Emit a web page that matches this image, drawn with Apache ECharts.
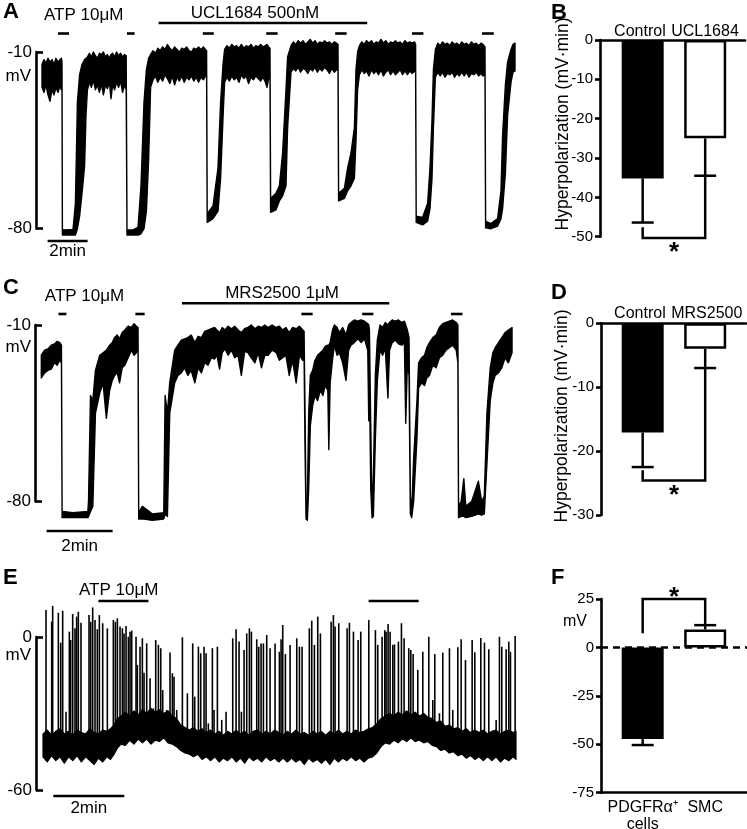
<!DOCTYPE html>
<html>
<head>
<meta charset="utf-8">
<script src="https://cdn.jsdelivr.net/npm/echarts@6/dist/echarts.min.js"></script>
<style>
  html, body { margin: 0; padding: 0; background: #fff; }
  #chart { width: 747px; height: 829px; }
</style>
</head>
<body>
<div id="chart"></div>
<script>
// membrane potential traces: [time (min), upper edge (mV), lower edge (mV)]
const traceA = [
  [0.05,-15,-24],[0.15,-13,-26],[0.25,-14.5,-23],[0.35,-12.5,-27],[0.45,-14,-29.5],[0.55,-13,-25],[0.65,-15,-27],
  [0.75,-12.5,-24],[0.85,-14,-26],[0.95,-13,-23.5],[1.02,-12.5,-25],[1.05,-14,-25],
  [1.07,-80.3,-82.5],[1.2,-80.5,-82.5],[1.6,-80.3,-82.5],[1.72,-70,-82.5],[1.82,-30,-80],[1.93,-19,-75],[2.05,-15,-66],[2.18,-13,-55],[2.25,-12.5,-35],
  [2.32,-12,-25],[2.42,-10.5,-22],[2.52,-12,-24],[2.62,-10,-21],[2.72,-11.5,-25],[2.82,-12.5,-23],[2.92,-10.5,-26],[3.02,-11,-22.5],
  [3.12,-10,-27],[3.22,-12,-23],[3.32,-11,-24.5],[3.42,-12.5,-22],[3.5,-11,-28.5],[3.58,-10.5,-23],[3.68,-12,-25],[3.78,-10,-22],
  [3.88,-11.5,-24],[3.98,-10.5,-21.5],[4.08,-12,-26],[4.18,-11,-23],[4.26,-11.5,-25],
  [4.3,-80.5,-82.5],[4.6,-80.5,-82.5],[4.85,-79.5,-82.5],[5.0,-63,-82],[5.15,-30,-80],[5.27,-17,-73],[5.38,-12.5,-53],
  [5.48,-11,-24],[5.6,-9.5,-21],[5.72,-10.5,-19.5],[5.84,-8.5,-22],[5.96,-9.5,-20],[6.08,-8,-21.5],[6.2,-9,-19],[6.32,-7,-20.5],
  [6.44,-8.5,-22.5],[6.56,-9.5,-19.5],[6.68,-8,-23],[6.8,-9,-20],[6.92,-10,-21.5],[7.04,-8.5,-19.5],[7.16,-9,-22],[7.28,-8,-20],
  [7.4,-9.5,-21],[7.52,-10,-19.5],[7.64,-8.5,-21.5],[7.76,-9,-20],[7.88,-8,-22],[8.0,-9,-20],[8.12,-8,-21],[8.22,-9,-19.5],[8.28,-9.5,-20],
  [8.31,-74,-77.5],[8.6,-71,-76],[8.85,-56,-73],[8.98,-30,-60],[9.1,-15,-36],
  [9.18,-9,-22],[9.3,-7.5,-20],[9.42,-8.5,-21.5],[9.54,-7,-19.5],[9.66,-8,-21],[9.78,-7.5,-20],[9.9,-8.5,-22],[10.02,-7,-19],
  [10.14,-8.5,-20.5],[10.26,-7.5,-19.5],[10.38,-8,-22.5],[10.5,-7,-20],[10.62,-8.5,-21],[10.74,-7.5,-19.5],[10.86,-8,-20.5],
  [10.98,-7,-21.5],[11.1,-8,-20],[11.22,-7.5,-22],[11.3,-7,-24],[11.38,-8,-20.5],[11.45,-8.5,-20],
  [11.48,-68,-73.5],[11.75,-66,-72.5],[11.92,-63,-69],[12.08,-50,-67],[12.25,-25,-63],[12.33,-12,-40],
  [12.5,-7.6,-18],[12.62,-6,-16.5],[12.74,-7,-17.5],[12.86,-5.5,-16],[12.98,-6.5,-18],[13.1,-5.5,-16.5],[13.22,-7,-17],[13.34,-6,-18.5],
  [13.46,-5,-16.5],[13.58,-6.5,-17.5],[13.7,-5.5,-16],[13.82,-7,-18],[13.94,-6,-16.5],[14.06,-6.5,-17.5],[14.18,-5.5,-16],[14.3,-6.5,-17],
  [14.42,-6,-18.5],[14.54,-7,-16.5],[14.66,-6,-18],[14.78,-6.5,-17],[14.85,-7,-17],
  [14.88,-66,-69],[15.17,-64,-68],[15.33,-56,-65],[15.5,-50,-63],[15.67,-40,-60],[15.75,-17,-45],[15.83,-10,-25],
  [15.92,-7.6,-19],[16.04,-6,-17],[16.16,-7,-18.5],[16.28,-5.5,-17.5],[16.4,-6.5,-19.5],[16.52,-5.5,-17],[16.64,-7,-18.5],[16.76,-6,-17.5],
  [16.88,-6.5,-19],[17.0,-5,-17],[17.12,-6.5,-19.5],[17.24,-5.5,-18],[17.36,-7,-17],[17.48,-6,-19],[17.6,-6.5,-17.5],[17.72,-5.5,-19],
  [17.84,-6.5,-18],[17.96,-6,-17],[18.08,-7,-19],[18.2,-5.5,-17.5],[18.32,-6.5,-19],[18.44,-6,-17.5],[18.56,-6.5,-18.5],[18.68,-6,-17.5],[18.73,-7,-18],
  [18.76,-75,-77.5],[19.08,-75.5,-78.5],[19.33,-70,-77],[19.45,-56,-72],[19.55,-37,-60],[19.62,-17,-40],
  [19.72,-9,-20],[19.84,-6.5,-18],[19.96,-7.5,-19.5],[20.08,-6,-18],[20.2,-7,-20],[20.32,-6.5,-18.5],[20.44,-7.5,-19],[20.56,-6,-18],
  [20.68,-7,-20],[20.8,-6.5,-18.5],[20.92,-7.5,-19.5],[21.04,-6,-18],[21.16,-7,-19.5],[21.28,-6.5,-18],[21.4,-7.5,-20],[21.52,-6,-18.5],
  [21.64,-7,-19],[21.76,-6.5,-18],[21.88,-7.5,-19.5],[22.0,-6.5,-18.5],[22.1,-7,-19.5],[22.2,-8,-19],
  [22.23,-77,-79.6],[22.5,-78,-80],[22.83,-76,-79],[23.0,-65,-76],[23.08,-43,-72],[23.22,-23,-58],[23.33,-14,-35],
  [23.5,-9,-22],[23.6,-7,-18],[23.7,-6.5,-17.5]
];

const traceC = [
  [0.04,-22,-31],[0.14,-20,-29],[0.24,-19.5,-28],[0.34,-18,-27.5],[0.44,-17.5,-25],[0.52,-16.5,-26],[0.6,-17,-24],[0.65,-18,-25],
  [0.67,-84,-86.5],[1.0,-84.5,-86.5],[1.45,-84,-86.5],[1.47,-80,-86],[1.53,-38,-84],[1.6,-40,-82],[1.68,-28,-45],[1.81,-22,-37],
  [1.91,-21,-33],[2.01,-20,-47],[2.11,-18,-36],[2.19,-17,-32],[2.26,-15,-30],[2.34,-14,-29],[2.41,-15.5,-33],[2.49,-13,-27],
  [2.57,-12,-26],[2.67,-10.5,-23],[2.77,-11,-20],[2.85,-9.5,-22],[2.92,-10.5,-21],[2.97,-11,-18],
  [2.99,-84.5,-87],[3.1,-82,-87],[3.4,-85,-87.5],[3.75,-84.5,-87],[3.79,-38,-85],[3.86,-45,-86],[3.93,-33,-45],[4.08,-20,-33],
  [4.18,-18,-30],[4.28,-16,-29],[4.38,-15.5,-27],[4.48,-15,-30],[4.58,-14,-28],[4.69,-17,-33],[4.79,-14.5,-27],[4.89,-15,-29],
  [4.99,-12.5,-25],[5.09,-12,-26],[5.19,-11.5,-23],[5.29,-11,-23.5],[5.36,-12,-22],[5.44,-13,-27.5],[5.52,-11,-21],[5.6,-12,-19.5],
  [5.7,-10.5,-22],[5.8,-11.5,-20],[5.9,-10.5,-23],[6.0,-12,-22],[6.1,-13,-30],[6.2,-11.5,-20.5],[6.3,-11,-21],[6.4,-10,-23],
  [6.51,-11.5,-25],[6.61,-10.5,-21],[6.71,-11,-27],[6.81,-10,-22],[6.91,-11,-22],[7.03,-10,-20],[7.16,-11,-21],[7.25,-10.5,-24],
  [7.35,-12,-23],[7.45,-11,-22],[7.55,-13,-30],[7.65,-11,-24],[7.76,-11.5,-33],[7.86,-10.5,-22],[7.96,-12,-24],
  [8.0,-12.5,-22],[8.03,-45,-60],[8.06,-84,-87],[8.1,-80,-87.5],[8.14,-45,-75],[8.19,-30,-50],[8.26,-28,-42],[8.33,-24,-38],[8.41,-22,-40],
  [8.49,-21,-36],[8.57,-20,-38],[8.64,-18.5,-34],[8.72,-18,-36],[8.75,-18,-59.5],[8.79,-17,-33],[8.86,-12,-24],[8.92,-10,-18],
  [9.0,-11,-22],[9.07,-13,-21],[9.17,-11,-25],[9.27,-14,-32],[9.35,-10,-20],[9.42,-9,-18],[9.52,-8,-17],[9.63,-8.5,-15.5],
  [9.73,-8,-17],[9.83,-8.5,-15.5],[9.93,-9.5,-20],[9.96,-10,-48],[9.98,-12,-30],
  [10.02,-50,-75],[10.06,-84,-86.5],[10.1,-70,-86],[10.16,-30,-55],[10.22,-16,-32],[10.3,-10,-20],[10.38,-11,-22],[10.46,-9,-19],
  [10.54,-10,-39],[10.59,-9,-20],[10.67,-8,-17],[10.76,-8.5,-16],[10.86,-8,-17.5],[10.96,-9,-18],[11.04,-8.5,-17],[11.08,-10,-49],
  [11.13,-12,-25],[11.18,-15,-30],
  [11.22,-78,-85],[11.26,-84,-86.5],[11.32,-63,-80],[11.42,-40,-55],[11.47,-25,-35],[11.56,-23,-33],[11.65,-22,-34],[11.72,-19,-31],
  [11.8,-17,-30],[11.9,-15,-26],[12.0,-14,-27],[12.1,-11,-23],[12.2,-9.5,-22],[12.3,-9,-20],[12.4,-8.5,-19],[12.5,-8,-18],[12.61,-9,-20],[12.66,-10,-25],
  [12.68,-82,-86.5],[12.76,-80,-86],[12.84,-71,-86],[12.9,-82,-86.5],[13.08,-80,-86],[13.28,-72,-85],[13.38,-80,-85.5],[13.46,-78,-85],
  [13.54,-45,-65],[13.64,-27,-40],[13.72,-21,-33],[13.79,-19,-30],[13.89,-17,-29],[13.99,-15,-27],[14.09,-13,-23],[14.19,-12,-25],[14.3,-11,-21]
];

const bandE = [
  [0,-38,-47],[0.12,-36.5,-49],[0.24,-38.5,-46.5],[0.36,-37,-48.5],[0.48,-36,-47],[0.6,-38,-49.5],[0.72,-37,-47],[0.84,-38.5,-48.5],
  [0.96,-36.5,-46.5],[1.08,-37.5,-49],[1.2,-38,-47],[1.32,-36,-48.5],[1.44,-37.5,-50],[1.56,-38,-47.5],[1.68,-36.5,-49],[1.8,-37,-47],[1.9,-36,-48],
  [2.0,-34.5,-46],[2.1,-32,-43.5],[2.2,-31,-42],
  [2.32,-29.5,-42.5],[2.44,-31,-40.5],[2.56,-29,-42],[2.68,-30.5,-40],[2.8,-28.5,-41.5],[2.92,-30,-40],[3.04,-28,-42],[3.16,-29.5,-40.5],
  [3.28,-28.5,-41],[3.4,-30,-39.5],[3.52,-29,-41.5],[3.64,-31,-42],
  [3.76,-32,-43],[3.88,-34.5,-44.5],[4.0,-35.5,-45.5],[4.12,-36.5,-46],[4.24,-35.5,-47],
  [4.36,-37,-46],[4.48,-36,-48],[4.6,-37.5,-47],[4.72,-36.5,-48.5],[4.84,-38,-47],[4.96,-37,-49],[5.08,-38.5,-47.5],[5.2,-37,-48.5],
  [5.32,-38,-47],[5.44,-36.5,-49],[5.56,-38,-47.5],[5.68,-37,-49.5],[5.8,-38.5,-47],[5.92,-37,-48.5],[6.04,-36.5,-47.5],[6.16,-38,-49],
  [6.28,-37,-47],[6.4,-38,-48.5],[6.52,-36.5,-47.5],[6.64,-37.5,-49],[6.76,-38.5,-47.5],[6.88,-37,-49],[7.0,-38,-47.5],[7.12,-36.5,-49],
  [7.24,-38,-48],[7.36,-37.5,-50],[7.48,-38.5,-47.5],[7.6,-37,-49],[7.72,-38,-48],[7.84,-37,-49.5],[7.96,-38.5,-48],[8.08,-37,-50],
  [8.2,-38,-47.5],[8.32,-36.5,-49],[8.44,-38,-47.5],[8.56,-37,-48.5],[8.68,-38,-47],[8.8,-36.5,-48.5],[8.92,-37.5,-47.5],[9.04,-37,-49],[9.16,-36,-47.5],
  [9.28,-35.5,-47],[9.4,-34,-45.5],[9.52,-32,-43],[9.64,-31,-41.5],
  [9.76,-30,-42],[9.88,-31,-40.5],[10.0,-29.5,-41.5],[10.12,-30.5,-40],[10.24,-29,-41],[10.36,-30.5,-39.5],[10.48,-29.5,-41],[10.6,-31,-40.5],
  [10.72,-30,-41.5],[10.84,-31.5,-41],
  [10.96,-32,-42.5],[11.08,-33.5,-43],[11.2,-33,-44.5],[11.32,-35,-44],[11.44,-34.5,-45.5],[11.56,-36,-45],[11.68,-35.5,-46.5],[11.8,-37,-46],
  [11.92,-36,-47.5],[12.04,-37.5,-46.5],[12.16,-36.5,-48],[12.28,-37.5,-47],[12.4,-36.5,-48.5],[12.52,-38,-47],[12.64,-37,-48.5],
  [12.76,-36.5,-47],[12.88,-38,-49],[13.0,-37,-47.5],[13.12,-36.5,-48.5],[13.24,-37.5,-47],[13.32,-37,-48]
];

// action potential peaks in E: [time (min), peak (mV)]
const spikesE = [
  [0.085,10.6],[0.244,6.0],[0.272,12.2],[0.432,9.5],[0.498,-2.2],[0.554,10.3],[0.648,-29.3],[0.742,2.1],[0.779,-1.2],[0.836,9.0],
  [0.901,3.4],[0.948,8.0],[0.995,9.9],[1.07,5.6],[1.296,8.6],[1.343,6.0],[1.399,11.6],[1.465,6.7],[1.53,3.1],[1.587,8.6],
  [1.681,5.4],[1.812,3.4],[1.981,6.7],[2.038,6.0],[2.094,7.3],[2.169,4.1],[2.235,3.4],[2.282,1.4],[2.338,4.3],[2.404,0.1],
  [2.451,2.1],[2.498,2.5],[2.62,0.1],[2.657,-11.0],[2.732,-3.8],[2.798,-0.5],[2.845,-14.0],[2.92,-2.5],[3.014,-16.2],[3.108,-28.0],
  [3.174,-1.2],[3.249,-3.1],[3.315,-4.4],[3.371,-20.8],[3.484,-28.6],[3.577,-6.1],[3.643,-14.2],[3.69,-15.6],[3.765,-28.6],[3.925,-0.1],
  [4.066,-22.1],[4.216,-2.5],[4.272,-23.4],[4.376,-3.8],[4.441,-6.4],[4.535,-3.8],[4.592,-6.4],[4.657,-33.9],[4.77,-4.4],[4.817,-28.6],
  [4.911,-3.8],[5.033,-32.5],[5.155,-29.3],[5.343,-0.5],[5.437,3.0],[5.521,-1.8],[5.587,-29.3],[5.662,-5.1],[5.737,1.4],[5.812,3.4],
  [5.869,2.1],[6.019,-0.9],[6.075,-3.8],[6.141,-2.5],[6.207,-2.5],[6.3,0.8],[6.394,-4.4],[6.535,-2.5],[6.657,-5.8],
  [6.704,-0.9],[6.751,4.7],[6.826,-6.7],[6.958,-3.1],[7.146,-0.5],[7.221,-3.8],[7.296,-3.8],[7.5,3.4],[7.568,6.4],[7.643,-3.1],
  [7.737,8.0],[7.812,1.4],[8.113,6.0],[8.178,8.6],[8.225,4.1],[8.329,5.4],[8.563,3.4],[8.629,5.6],[8.742,2.1],[8.873,-1.2],
  [8.948,2.1],[9.174,6.7],[9.361,2.7],[9.427,-3.1],[9.549,0.1],[9.624,2.7],[9.662,2.1],[9.718,5.1],[9.775,2.1],[9.85,-3.1],
  [9.897,-2.9],[10.009,-1.8],[10.094,5.4],[10.169,-0.5],[10.3,-4.4],[10.357,-5.1],[10.423,-6.7],[10.554,-12.9],[10.695,-5.8],[10.864,0.1],
  [10.977,-24.7],[11.033,-6.7],[11.164,-29.9],[11.258,-6.1],[11.446,-4.4],[11.54,-28.6],[11.681,-4.0],[11.775,-0.9],[11.897,-9.0],[12.085,-1.2],
  [12.16,-6.0],[12.329,-0.4],[12.432,-2.2],[12.554,-4.8],[12.761,-32.5],[12.854,0.1],[12.92,-3.8],[13.042,-4.8],[13.117,-1.8],[13.164,-5.8],
  [13.296,0.4]
];

// drug application periods [start, end] in min
const atpA = [[0.85,1.4],[4.3,4.68],[8.09,8.64],[11.26,11.83],[14.71,15.28],[18.55,19.12],[22.05,22.64]];
const uclA = [[5.88,16.31]];
const atpC = [[0.56,0.8],[2.89,3.17],[7.92,8.26],[9.76,10.1],[12.45,12.8]];
const mrsC = [[4.3,10.58]];
const atpE = [[1.56,2.97],[9.17,10.58]];

// time scale bars [start, length] in min
const scaleA = [0.33, 2];
const scaleC = [0.2, 2];
const scaleE = [0.29, 2];

// summary bars
const catB = ['Control', 'UCL1684'];
const meanB = [-35.2, -25.0];
const semB = [11.2, 9.5];
const sigB = [-47.6, -50.3, -34.5];

const catD = ['Control', 'MRS2500'];
const meanD = [-17.1, -4.0];
const semD = [5.4, 3.0];
const sigD = [-23.0, -24.6, -7.0];

const catF = ['PDGFRα⁺\ncells', 'SMC'];
const meanF = [-47.3, 9.3];
const semF = [3.1, 2.2];
const sigF = [7.3, 25, 11.5];

const FONT = '"Liberation Sans", Arial, Helvetica, sans-serif';
const BLACK = '#000';

function band(i, rows, lw) {
  return {
    type: 'custom', xAxisIndex: i, yAxisIndex: i, silent: true,
    data: [rows[0]],
    renderItem: (params, api) => {
      const top = rows.map(r => api.coord([r[0], r[1]]));
      const bot = rows.map(r => api.coord([r[0], r[2]])).reverse();
      return {
        type: 'polygon',
        shape: { points: top.concat(bot) },
        style: { fill: BLACK, stroke: BLACK, lineWidth: lw, lineJoin: 'round' }
      };
    }
  };
}

function spikes(i, rows) {
  return {
    type: 'custom', xAxisIndex: i, yAxisIndex: i, silent: true,
    data: rows,
    renderItem: (params, api) => {
      const p0 = api.coord([api.value(0), -40]);
      const p1 = api.coord([api.value(0), api.value(1)]);
      return {
        type: 'line',
        shape: { x1: p0[0], y1: p0[1], x2: p1[0], y2: p1[1] },
        style: { stroke: BLACK, lineWidth: 1.6 }
      };
    }
  };
}

function drugBars(i, rows, y) {
  return {
    type: 'custom', xAxisIndex: i, yAxisIndex: i, silent: true,
    data: rows,
    renderItem: (params, api) => {
      const a = api.coord([api.value(0), 0])[0];
      const b = api.coord([api.value(1), 0])[0];
      return {
        type: 'line',
        shape: { x1: a, y1: y, x2: b, y2: y },
        style: { stroke: BLACK, lineWidth: 2.6 }
      };
    }
  };
}

function scaleBar(i, sb, y, ty) {
  return {
    type: 'custom', xAxisIndex: i, yAxisIndex: i, silent: true,
    data: [sb],
    renderItem: (params, api) => {
      const a = api.coord([sb[0], 0])[0];
      const b = api.coord([sb[0] + sb[1], 0])[0];
      return {
        type: 'group',
        children: [
          { type: 'line', shape: { x1: a, y1: y, x2: b, y2: y }, style: { stroke: BLACK, lineWidth: 2.6 } },
          { type: 'text', style: { text: sb[1] + 'min', x: (a + b) / 2, y: ty, align: 'center', verticalAlign: 'middle',
            fontSize: 17, fontFamily: FONT, fill: BLACK } }
        ]
      };
    }
  };
}

function bars(i, means, extra) {
  return Object.assign({
    type: 'bar', xAxisIndex: i, yAxisIndex: i, barWidth: 42, silent: true,
    data: means.map((v, k) => ({
      value: [k + 1, v],
      itemStyle: k === 0 ? { color: BLACK } : { color: '#fff', borderColor: BLACK, borderWidth: 2.5 }
    }))
  }, extra || {});
}

function errBars(i, means, sems) {
  return {
    type: 'custom', xAxisIndex: i, yAxisIndex: i, silent: true, z: 5,
    data: means.map((m, k) => [k + 1, m, m + Math.sign(m) * sems[k]]),
    renderItem: (params, api) => {
      const p0 = api.coord([api.value(0), api.value(1)]);
      const p1 = api.coord([api.value(0), api.value(2)]);
      return {
        type: 'group',
        children: [
          { type: 'line', shape: { x1: p0[0], y1: p0[1], x2: p1[0], y2: p1[1] }, style: { stroke: BLACK, lineWidth: 2.5 } },
          { type: 'line', shape: { x1: p1[0] - 11, y1: p1[1], x2: p1[0] + 11, y2: p1[1] }, style: { stroke: BLACK, lineWidth: 2.5 } }
        ]
      };
    }
  };
}

function bracket(i, br, starDy) {
  return {
    type: 'custom', xAxisIndex: i, yAxisIndex: i, silent: true, z: 5,
    data: [br],
    renderItem: (params, api) => {
      const a = api.coord([1, br[0]]), b = api.coord([1, br[1]]);
      const c = api.coord([2, br[1]]), d = api.coord([2, br[2]]);
      return {
        type: 'group',
        children: [
          { type: 'polyline', shape: { points: [a, b, c, d] }, style: { stroke: BLACK, fill: 'none', lineWidth: 2.5 } },
          { type: 'text', style: { text: '*', x: (b[0] + c[0]) / 2, y: b[1] + starDy, align: 'center', verticalAlign: 'middle',
            fontSize: 26, fontWeight: 'bold', fontFamily: FONT, fill: BLACK } }
        ]
      };
    }
  };
}

// header labels sit side by side: first one ends just right of its bar centre, second starts left of its centre
function catLabels(i, cats, yv, dy, va, aligns, dxs) {
  return {
    type: 'custom', xAxisIndex: i, yAxisIndex: i, silent: true,
    data: cats.map((c, k) => [k + 1, yv]),
    renderItem: (params, api) => {
      const k = params.dataIndex;
      const p = api.coord([api.value(0), api.value(1)]);
      return {
        type: 'text',
        style: { text: cats[k], x: p[0] + dxs[k], y: p[1] + dy, align: aligns[k], verticalAlign: va,
          fontSize: 16, fontFamily: FONT, fill: BLACK, lineHeight: 17 }
      };
    }
  };
}

function traceX(g, max) {
  return { type: 'value', gridIndex: g, min: 0, max: max, show: false };
}

function traceY(g, min, max, offset) {
  return {
    type: 'value', gridIndex: g, min: min, max: max, interval: max - min, offset: offset,
    axisLine: { show: true, onZero: false, lineStyle: { color: BLACK, width: 2.6 } },
    axisTick: { show: true, inside: true, length: 7, lineStyle: { color: BLACK, width: 2.6 } },
    axisLabel: { color: BLACK, fontSize: 17, fontFamily: FONT, margin: 4 },
    splitLine: { show: false }
  };
}

function barX(g, min, max, pos) {
  return {
    type: 'value', gridIndex: g, min: min, max: max, position: pos,
    axisLine: { show: true, onZero: false, lineStyle: { color: BLACK, width: 2.6 } },
    axisTick: { show: false }, axisLabel: { show: false }, splitLine: { show: false }
  };
}

function barY(g, min, max, interval) {
  return {
    type: 'value', gridIndex: g, min: min, max: max, interval: interval,
    axisLine: { show: true, onZero: false, lineStyle: { color: BLACK, width: 2.6 } },
    axisTick: { show: true, length: 5, lineStyle: { color: BLACK, width: 2.6 } },
    axisLabel: { color: BLACK, fontSize: 15, fontFamily: FONT, margin: 7 },
    splitLine: { show: false }
  };
}

function txt(s, x, y, size, opts) {
  const o = opts || {};
  return {
    type: 'text', x: x, y: y, silent: true, rotation: o.rot || 0,
    style: { text: s, fontSize: size, fontWeight: o.weight || 'normal', fontFamily: FONT, fill: BLACK,
      align: o.align || 'left', verticalAlign: 'middle' }
  };
}

const chart = echarts.init(document.getElementById('chart'), null, { renderer: 'canvas' });

chart.setOption({
  animation: false,
  backgroundColor: '#fff',
  grid: [
    { left: 41, top: 52, width: 475, height: 176.7 },
    { left: 600, top: 40, width: 145, height: 196.7 },
    { left: 40, top: 325, width: 474, height: 176.3 },
    { left: 601, top: 323.3, width: 145, height: 191.7 },
    { left: 43, top: 637, width: 473, height: 153 },
    { left: 601, top: 599, width: 146, height: 193.7 }
  ],
  xAxis: [
    traceX(0, 23.75),
    barX(1, 0.317, 2.637, 'top'),
    traceX(2, 14.36),
    barX(3, 0.333, 2.653, 'top'),
    traceX(4, 13.32),
    barX(5, 0.333, 2.669, 'bottom')
  ],
  yAxis: [
    traceY(0, -80, -10, 5),
    barY(1, -50, 0, 10),
    traceY(2, -80, -10, 5),
    barY(3, -30, 0, 10),
    traceY(4, -60, 0, 7),
    barY(5, -75, 25, 25)
  ],
  graphic: [
    txt('A', 3, 12, 22, { weight: 'bold' }),
    txt('B', 551, 12.5, 22, { weight: 'bold' }),
    txt('C', 3, 288, 22, { weight: 'bold' }),
    txt('D', 551, 293, 22, { weight: 'bold' }),
    txt('E', 3, 578, 22, { weight: 'bold' }),
    txt('F', 551, 578, 22, { weight: 'bold' }),
    txt('mV', 31, 76, 17, { align: 'right' }),
    txt('mV', 31, 347, 17, { align: 'right' }),
    txt('mV', 31, 655, 17, { align: 'right' }),
    txt('ATP 10μM', 44, 15.5, 17),
    txt('UCL1684 500nM', 255, 13.5, 17, { align: 'center' }),
    txt('ATP 10μM', 44.8, 296.7, 17),
    txt('MRS2500 1μM', 282, 293.3, 17, { align: 'center' }),
    txt('ATP 10μM', 79, 590, 17),
    txt('Hyperpolarization (mV·min)', 563, 124, 17.5, { align: 'center', rot: Math.PI / 2 }),
    txt('Hyperpolarization (mV·min)', 562, 416, 17.5, { align: 'center', rot: Math.PI / 2 }),
    txt('mV', 575, 622, 16, { align: 'center' })
  ],
  series: [
    band(0, traceA, 1.4),
    drugBars(0, atpA, 33.5),
    drugBars(0, uclA, 23),
    scaleBar(0, scaleA, 241, 251),

    band(2, traceC, 1.4),
    drugBars(2, atpC, 314),
    drugBars(2, mrsC, 303.3),
    scaleBar(2, scaleC, 531, 546),

    band(4, bandE, 1.2),
    spikes(4, spikesE),
    drugBars(4, atpE, 601),
    scaleBar(4, scaleE, 796, 808),

    bars(1, meanB),
    errBars(1, meanB, semB),
    bracket(1, sigB, 15.4),
    catLabels(1, catB, 0, -8.3, 'middle', ['right', 'left'], [23, -34]),

    bars(3, meanD),
    errBars(3, meanD, semD),
    bracket(3, sigD, 15.3),
    catLabels(3, catD, 0, -10, 'middle', ['right', 'left'], [23, -34]),

    bars(5, meanF, {
      markLine: {
        silent: true, symbol: 'none', label: { show: false },
        lineStyle: { color: BLACK, width: 2.5, type: [7, 5] },
        data: [{ yAxis: 0 }]
      }
    }),
    errBars(5, meanF, semF),
    bracket(5, sigF, -1.3),
    catLabels(5, catF, -75, 6, 'top', ['center', 'center'], [0, 0])
  ]
});
</script>
</body>
</html>
